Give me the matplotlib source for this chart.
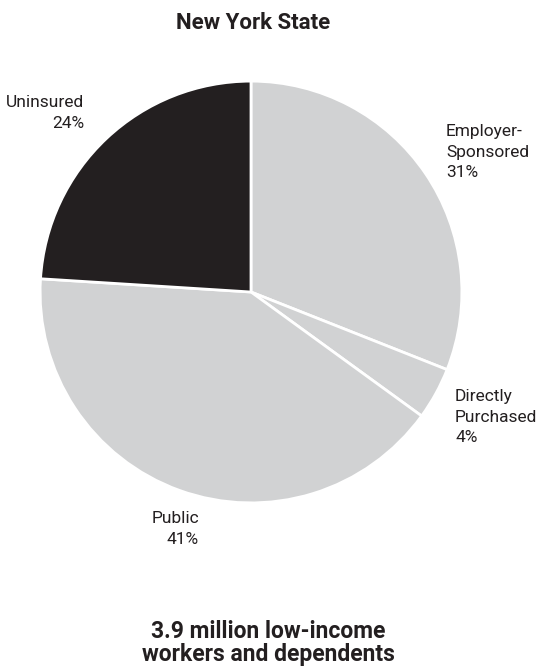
import matplotlib
matplotlib.use("Agg")
import matplotlib.pyplot as plt

categories = ["Employer-\nSponsored", "Directly\nPurchased", "Public", "Uninsured"]
values = [31, 4, 41, 24]
colors = ["#d1d2d3", "#d1d2d3", "#d1d2d3", "#231f20"]
title = "New York State"
subtitle = "3.9 million low-income\nworkers and dependents"

W, H = 542, 666
plt.rcParams['font.family'] = ['Roboto', 'DejaVu Sans']
fig = plt.figure(figsize=(W / 100, H / 100), dpi=100)

cx, cy, r = 251, 292, 213
ax = fig.add_axes([(cx - r) / W, (H - cy - r) / H, 2 * r / W, 2 * r / H])
ax.pie(values, colors=colors, startangle=90, counterclock=False, radius=1,
       wedgeprops=dict(edgecolor="white", linewidth=2))
ax.set_xlim(-1.01, 1.01)
ax.set_ylim(-1.01, 1.01)
ax.set_aspect("equal")
ax.axis("off")

def px(x, y):
    return x / W, 1 - y / H

lab_kw = dict(fontsize=12.5, color="#231f20", linespacing=1.45)
# label positions (pixel coords) and alignment
label_pos = [(446, 152, "left"), (455, 417, "left"), (199, 529, "right"), (84, 113, "right")]
for (x, y, ha), cat, v in zip(label_pos, categories, values):
    fig.text(*px(x, y), f"{cat}\n{v}%", ha=ha, va="center", multialignment=ha, **lab_kw)

fig.text(*px(253, 23), title, ha="center", va="center", fontsize=16, fontweight="bold", color="#231f20")
fig.text(*px(268, 643), subtitle, ha="center", va="center", fontsize=16.5, fontweight="bold",
         color="#231f20", linespacing=1.05)

fig.savefig("out.png", dpi=100)
